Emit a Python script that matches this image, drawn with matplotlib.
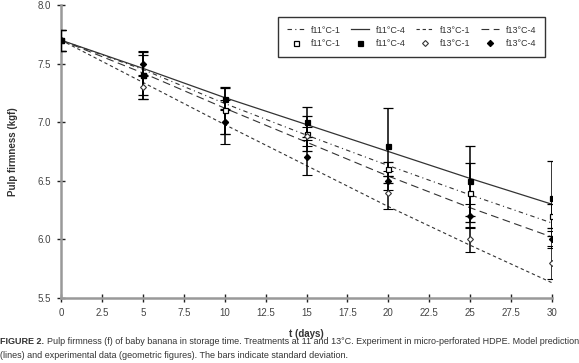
import matplotlib
matplotlib.use("Agg")
import matplotlib.pyplot as plt
from matplotlib.lines import Line2D

plt.rcParams['font.family'] = ['Liberation Sans Narrow', 'Liberation Sans', 'DejaVu Sans']

t_model = [0, 5, 10, 15, 20, 25, 30]
m_f11_1 = [7.70, 7.45, 7.16, 6.89, 6.63, 6.38, 6.14]
m_f11_4 = [7.70, 7.46, 7.21, 6.98, 6.75, 6.52, 6.30]
m_f13_1 = [7.70, 7.34, 6.98, 6.63, 6.28, 5.95, 5.63]
m_f13_4 = [7.70, 7.42, 7.12, 6.83, 6.54, 6.27, 6.02]

t_exp = [0, 5, 10, 15, 20, 25, 30]
e_f11_1 = [7.70, 7.40, 7.10, 6.90, 6.60, 6.40, 6.20]
sd_f11_1 = [0.09, 0.17, 0.20, 0.15, 0.06, 0.25, 0.10]
e_f11_4 = [7.70, 7.40, 7.20, 7.00, 6.80, 6.50, 6.35]
sd_f11_4 = [0.09, 0.20, 0.09, 0.13, 0.32, 0.30, 0.32]
e_f13_1 = [7.70, 7.30, 7.00, 6.88, 6.40, 6.00, 5.80]
sd_f13_1 = [0.09, 0.10, 0.19, 0.08, 0.14, 0.11, 0.14]
e_f13_4 = [7.70, 7.50, 7.00, 6.70, 6.50, 6.20, 6.00]
sd_f13_4 = [0.09, 0.11, 0.10, 0.15, 0.08, 0.10, 0.07]

labels = ["f11°C-1", "f11°C-4", "f13°C-1", "f13°C-4"]
xticks = [0, 2.5, 5, 7.5, 10, 12.5, 15, 17.5, 20, 22.5, 25, 27.5, 30]
xticklabels = ["0", "2.5", "5", "7.5", "10", "12.5", "15", "17.5", "20", "22.5", "25", "27.5", "30"]
yticks = [5.5, 6.0, 6.5, 7.0, 7.5, 8.0]

fig = plt.figure(figsize=(5.79, 3.63), dpi=100)
ax = fig.add_axes([61/579, 1-298/363, (552-61)/579, (298-5)/363])

lc = '#333333'
styles = [
    dict(linestyle=(0, (4, 3, 1, 3)), color=lc, lw=0.8),
    dict(linestyle='-', color=lc, lw=0.9),
    dict(linestyle=(0, (3, 2.5)), color=lc, lw=0.8),
    dict(linestyle=(0, (7, 4)), color=lc, lw=0.8),
]
models = [m_f11_1, m_f11_4, m_f13_1, m_f13_4]
line_handles = []
for m, st in zip(models, styles):
    h, = ax.plot(t_model, m, **st)
    line_handles.append(h)

markers = [
    dict(marker='s', mfc='white', mec='black', ms=3.6, mew=0.9),
    dict(marker='s', mfc='black', mec='black', ms=3.6, mew=0.9),
    dict(marker='D', mfc='white', mec='#333333', ms=3.0, mew=0.8),
    dict(marker='D', mfc='black', mec='black', ms=3.2, mew=0.8),
]
exps = [(e_f11_1, sd_f11_1), (e_f11_4, sd_f11_4), (e_f13_1, sd_f13_1), (e_f13_4, sd_f13_4)]
for (e, sd), mk in zip(exps, markers):
    ax.errorbar(t_exp, e, yerr=sd, linestyle='none', ecolor='black', elinewidth=1.1,
                capsize=3.5, capthick=1.1, zorder=3, **mk)

marker_handles = [Line2D([], [], linestyle='none', **mk) for mk in markers]

handles = []
hlabels = []
for i in range(4):
    handles += [line_handles[i], marker_handles[i]]
    hlabels += [labels[i], labels[i]]
leg = ax.legend(handles, hlabels, ncol=4, loc='upper left',
                bbox_to_anchor=((273-61)/491, 1-(12-5)/293), fontsize=6.5,
                frameon=True, fancybox=False, edgecolor='black', handlelength=2.0,
                columnspacing=1.15, handletextpad=0.7, borderpad=1.0, labelspacing=0.5,
                labelcolor='#333333')
leg.get_frame().set_linewidth(1.0)

ax.set_xlim(0, 30)
ax.set_ylim(5.5, 8.0)
ax.set_xticks(xticks)
ax.set_xticklabels(xticklabels)
ax.set_yticks(yticks)
ax.set_yticklabels([f"{v:.1f}" for v in yticks])
for s in ['top', 'right']:
    ax.spines[s].set_visible(False)
for s in ['left', 'bottom']:
    ax.spines[s].set_color('#999999')
    ax.spines[s].set_linewidth(1.8)
ax.tick_params(direction='inout', length=6, width=1, color='#222222', labelsize=7,
               labelcolor='#444444', pad=4)

ax.set_xlabel("t (days)", fontsize=7, fontweight='bold', color='#333333', labelpad=8)
ax.set_ylabel("Pulp firmness (kgf)", fontsize=7, fontweight='bold', color='#333333', labelpad=14)

cap_y = 1 - 342/363
t1 = fig.text(0.0, cap_y, "FIGURE 2.", fontsize=6.5, fontweight='bold', color='#333333', va='center')
renderer = fig.canvas.get_renderer()
bb = t1.get_window_extent(renderer=renderer)
x2 = (bb.x1 + 3) / fig.bbox.width
fig.text(x2, cap_y, "Pulp firmness (f) of baby banana in storage time. Treatments at 11 and 13°C. Experiment in micro-perforated HDPE. Model prediction",
         fontsize=6.5, color='#333333', va='center')
fig.text(0.0, 1-355/363, "(lines) and experimental data (geometric figures). The bars indicate standard deviation.",
         fontsize=6.5, color='#333333', va='center')

fig.savefig("out.png", dpi=100)
